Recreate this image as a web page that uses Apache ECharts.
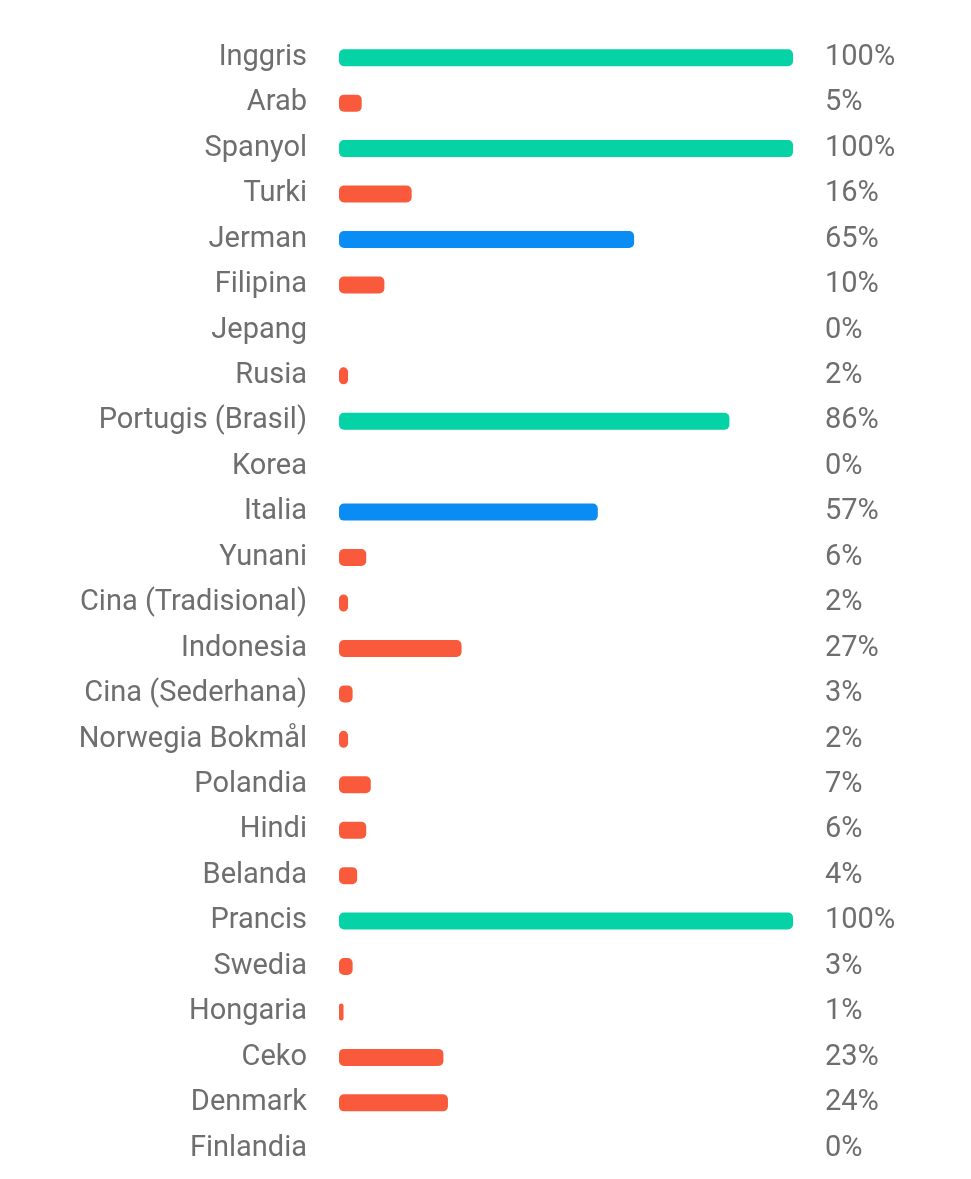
<!DOCTYPE html>
<html>
<head>
<meta charset="utf-8">
<script src="https://cdn.jsdelivr.net/npm/echarts@6/dist/echarts.min.js"></script>
<style>html,body{margin:0;background:#fff}#c{width:971px;height:1179px}</style>
</head>
<body>
<div id="c"></div>
<script>
"use strict";

// Bahasa dan persentase terjemahan
const languages = ["Inggris", "Arab", "Spanyol", "Turki", "Jerman", "Filipina", "Jepang", "Rusia",
    "Portugis (Brasil)", "Korea", "Italia", "Yunani", "Cina (Tradisional)", "Indonesia",
    "Cina (Sederhana)", "Norwegia Bokmål", "Polandia", "Hindi", "Belanda", "Prancis",
    "Swedia", "Hongaria", "Ceko", "Denmark", "Finlandia"];
const percents = [100, 5, 100, 16, 65, 10, 0, 2, 86, 0, 57, 6, 2, 27, 3, 2, 7, 6, 4, 100, 3, 1, 23, 24, 0];

const C = { green: "#05d2a5", blue: "#0a8cf5", red: "#fa5a3c", text: "#6e6e6e" };
const FONT = "Roboto, 'Noto Sans', sans-serif";

function barColor(v) {
    if (v >= 75) return C.green;
    if (v >= 50) return C.blue;
    return C.red;
}

const chart = echarts.init(document.getElementById("c"));
chart.setOption({
    animation: false,
    textStyle: { fontFamily: FONT },
    grid: { left: 339, right: 178, top: 35, height: 1136 },
    xAxis: { type: "value", min: 0, max: 100, show: false },
    yAxis: [
        {
            type: "category", data: languages, inverse: true,
            axisLine: { show: false }, axisTick: { show: false },
            axisLabel: { color: C.text, fontSize: 29, margin: 32, fontFamily: FONT }
        },
        {
            type: "category", data: percents.map(v => v + "%"), inverse: true, position: "right",
            axisLine: { show: false }, axisTick: { show: false },
            axisLabel: { color: C.text, fontSize: 29, margin: 32, fontFamily: FONT }
        }
    ],
    series: [{
        type: "bar", barWidth: 17,
        data: percents.map(v => ({ value: v, itemStyle: { color: barColor(v), borderRadius: 5 } }))
    }]
});
</script>
</body>
</html>
